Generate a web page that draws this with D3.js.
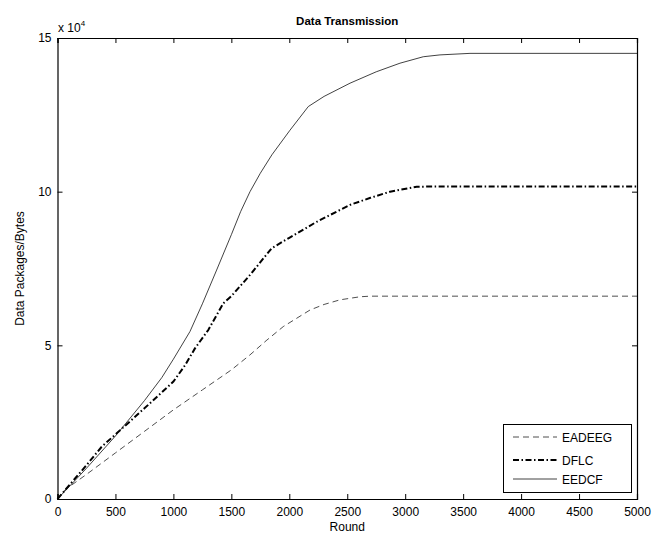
<!DOCTYPE html>
<html><head><meta charset="utf-8">
<script src="https://cdn.jsdelivr.net/npm/d3@7"></script>
<style>body{margin:0;background:#fff}svg{display:block}text{font-family:"Liberation Sans",Arial,sans-serif}</style>
</head><body><svg id="c" width="654" height="536"></svg>
<script>
const xTicks = [0,500,1000,1500,2000,2500,3000,3500,4000,4500,5000];
const yTicks = [0,5,10,15];
const seriesNames = ["EADEEG","DFLC","EEDCF"];
const eadeegRounds = [0,65,250,500,750,1000,1250,1500,1661,1800,1948,2179,2300,2437,2610,2700,5000];
const eadeegValues = [0,0.3,0.8,1.5,2.2,2.9,3.55,4.2,4.69,5.15,5.61,6.15,6.33,6.48,6.58,6.6,6.6];
const dflcRounds = [0,250,381,500,750,1000,1100,1186,1301,1431,1500,1661,1848,2000,2236,2524,2700,2869,3099,3300,5000];
const dflcValues = [0,1.1,1.7,2.1,2.95,3.82,4.35,4.9,5.5,6.37,6.6,7.29,8.16,8.5,9.02,9.57,9.8,10.0,10.16,10.17,10.17];
const eedcfRounds = [0,250,500,750,900,1000,1143,1250,1373,1500,1580,1661,1750,1850,2006,2164,2300,2524,2750,2955,3156,3300,3559,5000];
const eedcfValues = [0,1.0,2.05,3.2,3.95,4.55,5.45,6.35,7.45,8.6,9.35,10.0,10.6,11.2,12.0,12.77,13.1,13.53,13.9,14.18,14.39,14.45,14.5,14.5];

const svg = d3.select("#c");
const L=57.5, R=637, T=38, B=499;
const x = d3.scaleLinear().domain([0,5000]).range([L,R]);
const y = d3.scaleLinear().domain([0,15]).range([B,T]);

const series = [
  {name:seriesNames[0], r:eadeegRounds, v:eadeegValues, w:0.8, dash:"6,4", color:"#222"},
  {name:seriesNames[1], r:dflcRounds, v:dflcValues, w:2, dash:"6,2.5,1.5,2.5", color:"#000"},
  {name:seriesNames[2], r:eedcfRounds, v:eedcfValues, w:0.8, dash:null, color:"#111"}
];

const line = d3.line().x(d=>x(d[0])).y(d=>y(d[1]));
series.forEach(s=>{
  svg.append("path").datum(s.r.map((r,i)=>[r,s.v[i]]))
    .attr("d",line).attr("fill","none").attr("stroke",s.color)
    .attr("stroke-width",s.w).attr("stroke-dasharray",s.dash);
});

const fs = 12;
const xb = svg.append("g").attr("transform",`translate(0,${B})`)
  .call(d3.axisBottom(x).tickValues(xTicks).tickSize(-5).tickPadding(8).tickFormat(d3.format("d")));
const xt = svg.append("g").attr("transform",`translate(0,${T})`)
  .call(d3.axisTop(x).tickValues(xTicks).tickSize(-5).tickFormat(""));
const yl = svg.append("g").attr("transform",`translate(${L},0)`)
  .call(d3.axisLeft(y).tickValues(yTicks).tickSize(-5).tickPadding(6).tickFormat(d3.format("d")));
const yr = svg.append("g").attr("transform",`translate(${R},0)`)
  .call(d3.axisRight(y).tickValues(yTicks).tickSize(-5).tickFormat(""));
[xb,xt,yl,yr].forEach(g=>{
  g.selectAll("path").attr("stroke","#000").attr("stroke-width",1.2);
  g.selectAll("line").attr("stroke","#000").attr("stroke-width",1);
  g.selectAll("text").attr("font-family","Liberation Sans, Arial, sans-serif").attr("font-size",fs).attr("fill","#000");
});

svg.append("text").attr("x",(L+R)/2).attr("y",25).attr("text-anchor","middle")
  .attr("font-size",11.5).attr("font-weight","bold").text("Data Transmission");
svg.append("text").attr("x",(L+R)/2).attr("y",531).attr("text-anchor","middle")
  .attr("font-size",12).text("Round");
svg.append("text").attr("transform",`translate(24,${(T+B)/2}) rotate(-90)`).attr("text-anchor","middle")
  .attr("font-size",12).text("Data Packages/Bytes");
const ex = svg.append("text").attr("x",58).attr("y",32).attr("font-size",12);
ex.append("tspan").text("x 10");
ex.append("tspan").attr("dy",-6).attr("font-size",8).text("4");

const lg = svg.append("g");
lg.append("rect").attr("x",503.5).attr("y",424.5).attr("width",128).attr("height",68)
  .attr("fill","#fff").attr("stroke","#000").attr("stroke-width",1);
const ly = [437,460,479];
series.forEach((s,i)=>{
  lg.append("line").attr("x1",513).attr("x2",557).attr("y1",ly[i]).attr("y2",ly[i])
    .attr("stroke",s.color).attr("stroke-width",s.w).attr("stroke-dasharray",s.dash);
  lg.append("text").attr("x",562).attr("y",ly[i]+4.5).attr("font-size",12).text(s.name);
});
</script></body></html>
